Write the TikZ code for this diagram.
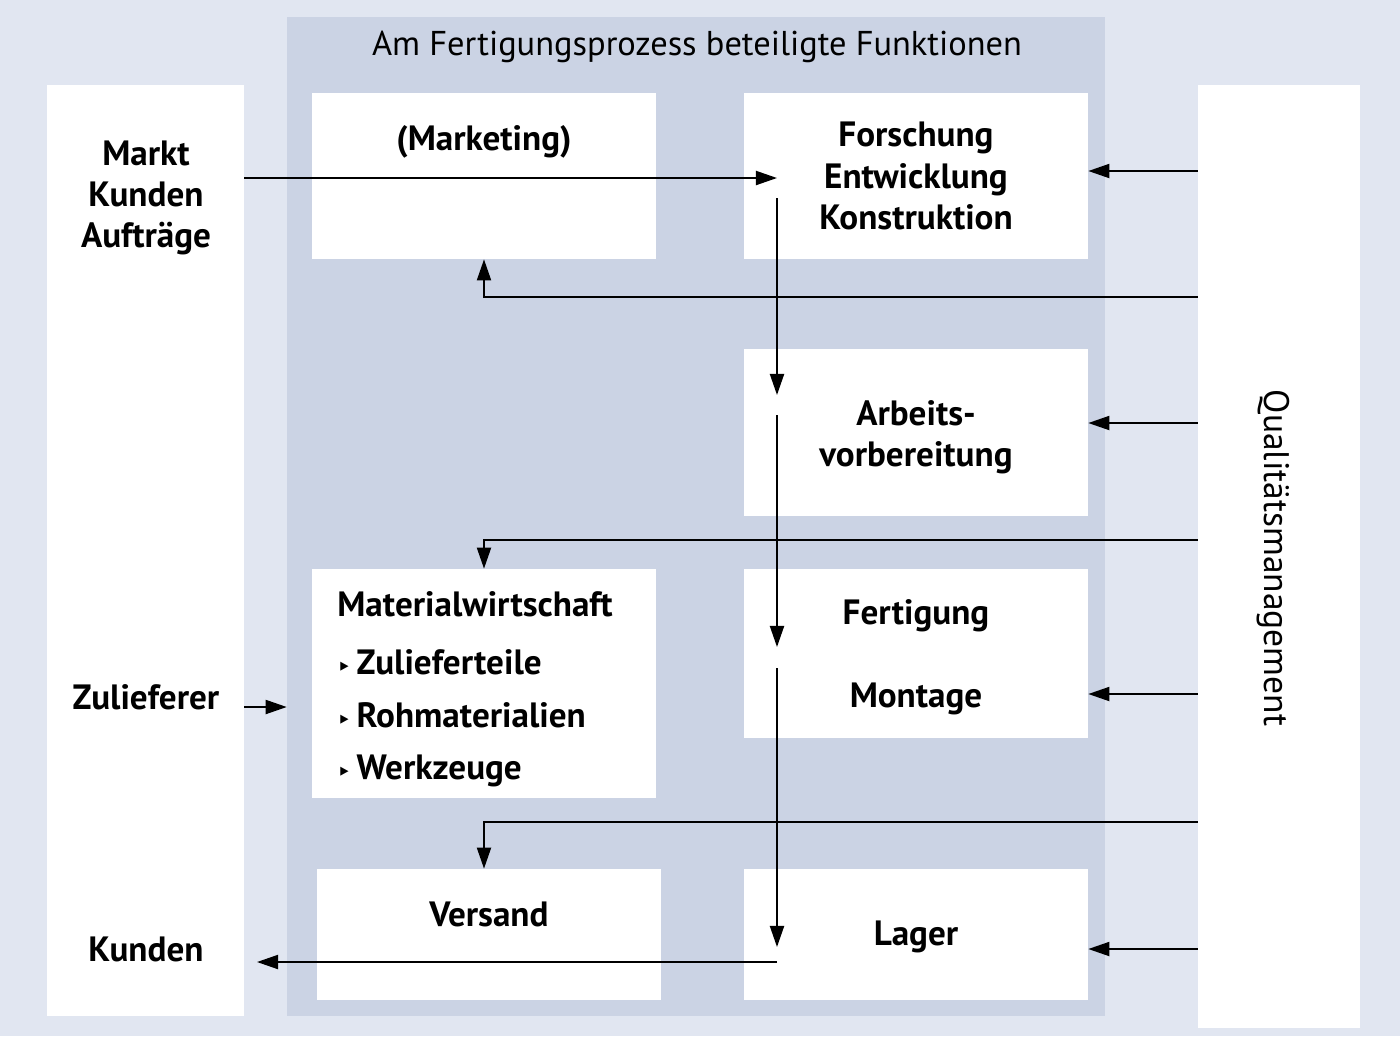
\documentclass[tikz,border=0pt]{standalone}
\usepackage{fontspec}
\setmainfont{PT Sans}
\newfontfamily\symfont{DejaVu Sans}
\usepackage{tikz}
\usetikzlibrary{arrows.meta, positioning}

\definecolor{outerbg}{RGB}{225,230,241}
\definecolor{panelbg}{RGB}{203,211,228}

\tikzset{
  box/.style={rectangle, fill=white, inner sep=0pt, minimum width=6.88cm},
  lbl/.style={font=\fontsize{20}{23.5}\selectfont\bfseries, align=center, inner sep=0pt},
  arr/.style={-{Triangle[length=12pt,width=8pt]}, line width=1.1pt},
  ln/.style={line width=1.1pt}
}
\newcommand{\tribullet}{{\symfont\fontsize{12}{12}\selectfont ‣}\,}

\begin{document}
\begin{tikzpicture}[x=0.02cm, y=-0.02cm]
    \fill[outerbg] (0,0) rectangle (1400,1036);
    \useasboundingbox (0,0) rectangle (1400,1036);

    % Rahmen
    \node[rectangle, fill=panelbg, inner sep=0pt, minimum width=16.36cm, minimum height=19.98cm] (panel) at (696,516.5) {};
    \node[rectangle, fill=white, inner sep=0pt, minimum width=3.94cm, minimum height=18.62cm] (umwelt) at (145.5,550.5) {};
    \node[rectangle, fill=white, inner sep=0pt, minimum width=3.24cm, minimum height=18.86cm] (qm) at (1279,556.5) {};
    \node[font=\fontsize{19.6}{23}\selectfont, inner sep=0pt] (titel) at (697,47) {Am Fertigungsprozess beteiligte Funktionen};
    \node[font=\fontsize{20.2}{23}\selectfont, inner sep=0pt, rotate=-90] (qmtext) at (1273,558) {Qualitätsmanagement};

    % Funktionen
    \node[box, minimum height=3.32cm] (mkt) at (484,176) {};
    \node[lbl] (mkttext) at (484,142) {(Marketing)};
    \node[box, minimum height=3.32cm, lbl] (fek) at (916,176) {Forschung\\Entwicklung\\Konstruktion};
    \node[box, minimum height=3.34cm] (av) at (916,432.5) {};
    \node[lbl] (avtext) at (916,437) {Arbeits-\\vorbereitung};
    \node[box, minimum height=4.58cm] (mw) at (484,683.5) {};
    \node[lbl, align=left, anchor=north west, font=\fontsize{20}{30}\selectfont\bfseries] (mwtext) at (337,591) {Materialwirtschaft\\[3pt]
      \tribullet Zulieferteile\\ \tribullet Rohmaterialien\\ \tribullet Werkzeuge};
    \node[box, minimum height=3.38cm] (ferti) at (916,653.5) {};
    \node[lbl] (fertitext) at (916,657) {Fertigung\\[24pt]Montage};
    \node[box, minimum height=2.62cm] (versand) at (489,934.5) {};
    \node[lbl] (versandtext) at (489,914) {Versand};
    \node[box, minimum height=2.62cm] (lager) at (916,934.5) {};
    \node[lbl] (lagertext) at (916,937) {Lager};

    % Umwelt
    \node[lbl] (markt) at (146,198) {Markt\\Kunden\\Aufträge};
    \node[lbl] (zulief) at (146,697) {Zulieferer};
    \node[lbl] (kunden) at (146,949) {Kunden};

    % Fluss
    \coordinate (f0) at (777,178);
    \coordinate (f1) at (777,198);
    \coordinate (f2) at (777,395);
    \coordinate (f3) at (777,415);
    \coordinate (f4) at (777,647);
    \coordinate (f5) at (777,668);
    \coordinate (f6) at (777,947);
    \coordinate (f7) at (777,962);
    \coordinate (k0) at (257,962);

    \draw[arr] (umwelt.east |- f0) -- (f0);
    \draw[arr] (f1) -- (f2);
    \draw[arr] (f3) -- (f4);
    \draw[arr] (f5) -- (f6);
    \draw[arr] (f7) -- (k0);
    \draw[arr] (umwelt.east |- 0,707) -- (panel.west |- 0,707);

    % Qualitaetsmanagement
    \draw[arr] (qm.west |- 0,171) -- (fek.east |- 0,171);
    \draw[arr] (qm.west |- 0,297) -| (mkt.south);
    \draw[arr] (qm.west |- 0,423) -- (av.east |- 0,423);
    \draw[arr] (qm.west |- 0,540) -| (mw.north);
    \draw[arr] (qm.west |- 0,694) -- (ferti.east |- 0,694);
    \draw[arr] (qm.west |- 0,822) -| (versand.north -| mw.south);
    \draw[arr] (qm.west |- 0,949) -- (lager.east |- 0,949);
\end{tikzpicture}
\end{document}
